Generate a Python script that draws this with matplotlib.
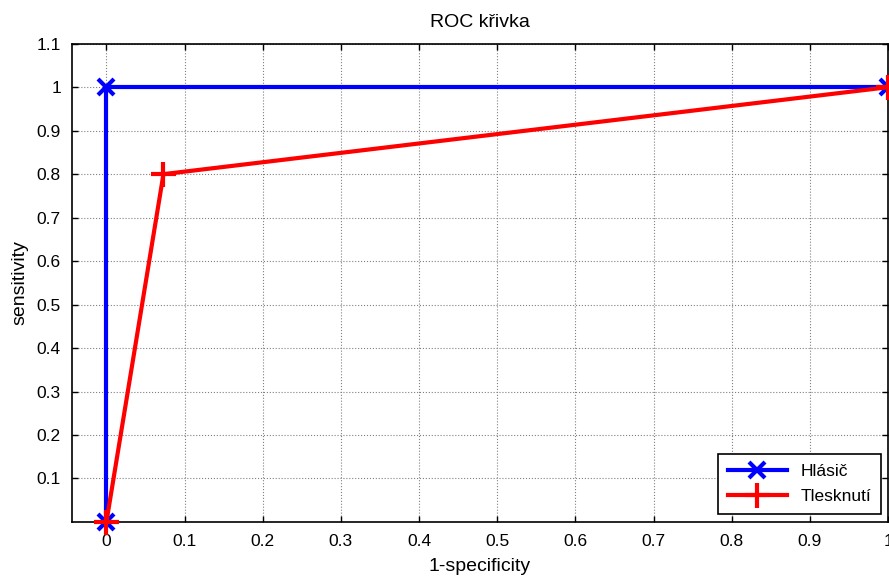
import matplotlib
matplotlib.use("Agg")
import matplotlib.pyplot as plt

plt.rcParams['font.family'] = ['Liberation Sans', 'DejaVu Sans']

# data
hlasic_x = [0, 0, 1]
hlasic_y = [0, 1, 1]
tlesk_x = [0, 0.073, 1]
tlesk_y = [0, 0.8, 1]

xticks = [0, 0.1, 0.2, 0.3, 0.4, 0.5, 0.6, 0.7, 0.8, 0.9, 1]
yticks = [0.1, 0.2, 0.3, 0.4, 0.5, 0.6, 0.7, 0.8, 0.9, 1, 1.1]

fig = plt.figure(figsize=(8.89, 5.79), dpi=100)
ax = fig.add_axes([0.081, 0.0985, 0.918, 0.826])

ax.plot(hlasic_x, hlasic_y, color='#0000ff', lw=3, marker='x', ms=11, mew=3,
        label='Hlásič', zorder=3, clip_on=False)
ax.plot(tlesk_x, tlesk_y, color='#ff0000', lw=3, marker='+', ms=18, mew=3,
        label='Tlesknutí', zorder=4, clip_on=False)

ax.set_xlim(-0.044, 1.0)
ax.set_ylim(0, 1.1)
ax.set_xticks(xticks)
ax.set_xticklabels(['0', '0.1', '0.2', '0.3', '0.4', '0.5', '0.6', '0.7', '0.8', '0.9', '1'])
ax.set_yticks(yticks)
ax.set_yticklabels(['0.1', '0.2', '0.3', '0.4', '0.5', '0.6', '0.7', '0.8', '0.9', '1', '1.1'])
ax.tick_params(direction='in', length=4, labelsize=12.5, top=True, right=True, width=1)
ax.tick_params(axis='x', pad=9)
ax.tick_params(axis='y', pad=8)
ax.grid(True, color='#808080', linestyle=':', linewidth=0.8)
for s in ax.spines.values():
    s.set_linewidth(1.2)

ax.set_title('ROC křivka', fontsize=14, pad=12)
ax.set_xlabel('1-specificity', fontsize=14, labelpad=6)
ax.set_ylabel('sensitivity', fontsize=14, labelpad=6)

leg = ax.legend(loc='lower right', fontsize=12.5, fancybox=False, framealpha=1,
                edgecolor='black', borderpad=0.55, handlelength=3.4,
                labelspacing=0.6, borderaxespad=0,
                bbox_to_anchor=(0.991, 0.017))
leg.get_frame().set_linewidth(1.2)

fig.savefig('out.png', dpi=100)
